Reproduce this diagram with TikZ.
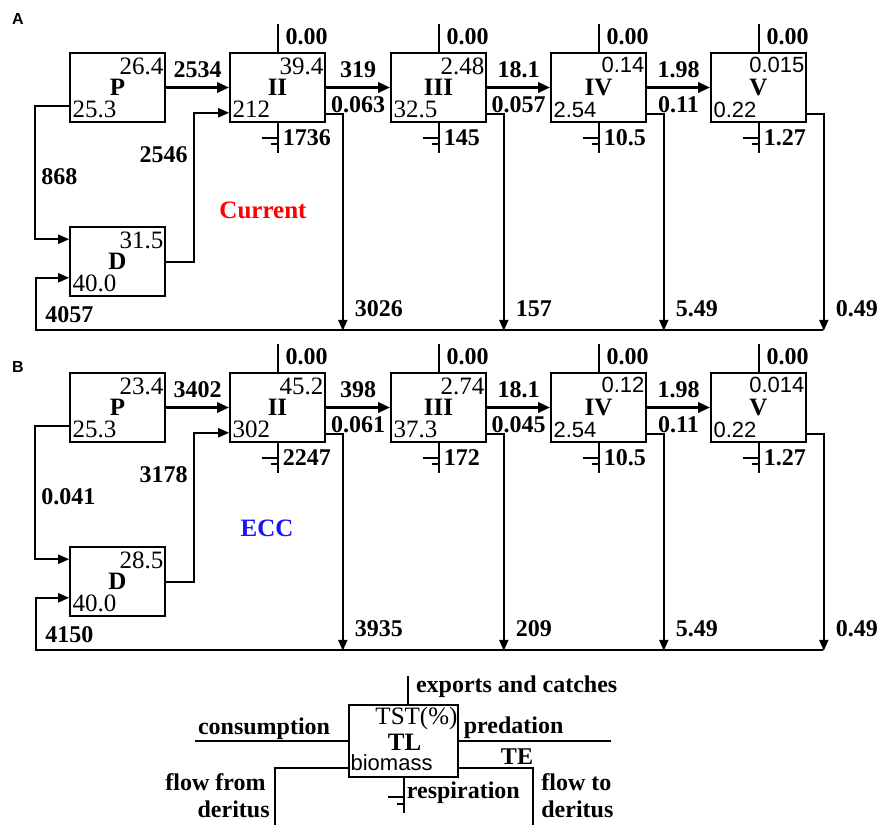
\documentclass[tikz,border=0pt]{standalone}
\usepackage{fontspec}
\setmainfont{Liberation Serif}
\newfontfamily\arialfont{Liberation Sans}
\definecolor{CurrentRed}{RGB}{255,0,0}
\definecolor{EccBlue}{RGB}{20,20,255}
\usetikzlibrary{arrows.meta, calc, positioning}
\newcommand\serifnum{\fontsize{12.5}{14}\selectfont}
\newcommand\sansnum{\arialfont\fontsize{11}{12}\selectfont}
\tikzset{
  tlbox/.style={draw, line width=0.8pt, minimum width=47.5pt, minimum height=34.5pt, inner sep=0pt},
  tllabel/.style={inner sep=0pt, font=\bfseries\fontsize{12.5}{14}\selectfont},
  val/.style={inner sep=0pt, font=\bfseries\fontsize{12}{13.5}\selectfont},
  paneltag/.style={inner sep=0pt, font=\arialfont\bfseries\fontsize{8}{9}\selectfont},
  linkline/.style={line width=1pt},
  flow/.style={line width=1.5pt, -{Triangle[length=6pt,width=5pt]}},
  detflow/.style={line width=1pt, -{Triangle[length=5.5pt,width=4.5pt]}}
}

\begin{document}
\begin{tikzpicture}[x=0.5pt, y=-0.5pt]
\useasboundingbox (0,0) rectangle (880,825);

% A: current
\node[paneltag] (tagA) at (18,19) {A};
\node[tlbox] (AP) at (117.5,87.5) {};
\node[tlbox] (AD) at (117.5,261.5) {};
\foreach \n/\x in {2/277.5,3/438.5,4/598.5,5/758.5}
  \node[tlbox] (A\n) at (\x,87.5) {};
\foreach \n/\lev/\tp/\bm/\fn in {P/P/26.4/25.3/\serifnum, D/D/31.5/40.0/\serifnum, 2/II/39.4/212/\serifnum,
    3/III/2.48/32.5/\serifnum, 4/IV/0.14/2.54/\sansnum, 5/V/0.015/0.22/\sansnum}{
  \node[inner sep=0pt, font=\fn, anchor=north east] (A\n-t) at ($(A\n.north east)+(-2,5)$) {\tp};
  \node[tllabel] (A\n-l) at (A\n) {\lev};
  \node[inner sep=0pt, font=\fn, anchor=south west] (A\n-b) at ($(A\n.south west)+(3,-5)$) {\bm};
}
\draw[flow] (AP) -- node[val, above=4pt] (Afl1) {2534} (A2);
\foreach \a/\c/\fl/\te in {2/3/319/0.063, 3/4/18.1/0.057, 4/5/1.98/0.11}
  \draw[flow] (A\a) -- node[val, above=4pt] (Afl\a) {\fl} node[val, below=4pt] (Ate\a) {\te} (A\c);
\foreach \n/\r/\d in {2/1736/3026, 3/145/157, 4/10.5/5.49, 5/1.27/0.49}{
  \draw[linkline] (A\n.north) -- ++(0,-28) node[val, pos=0.57, anchor=west, xshift=3.5pt] (Aex\n) {0.00};
  \draw[linkline] (A\n.south) -- ++(0,30) ($(A\n.south)+(0,15)$) -- ++(-16,0) ($(A\n.south)+(0,21)$) -- ++(-7,0);
  \node[val, anchor=west] (Are\n) at ($(A\n.south)+(5,15)$) {\r};
  \draw[detflow] ($(A\n.south east)+(0,-9)$) -- ++(17,0) -- ++(0,217)
    node[val, pos=0.9, anchor=west, xshift=5.5pt] (Ade\n) {\d};
}
\coordinate (Abot) at (823,330);
\coordinate (Acorner) at (36,330);
\draw[detflow] (Abot) -- (Acorner) |- ($(AD.south west)+(0,-19)$);
\node[val, anchor=west] (Aret) at (45,315) {4057};
\draw[detflow] ($(AP.south west)+(0,-17)$) -- ++(-34,0) |- ($(AD.north west)+(0,13)$);
\node[val, anchor=west] (Apd) at (41,177) {868};
\draw[detflow] (AD.east) -- ++(28,0) |- ($(A2.south west)+(0,-10)$);
\node[val, anchor=east] (Adp) at (188,155) {2546};
\node[tllabel, text=CurrentRed] (Aname) at (263,210) {Current};

% B: ECC
\begin{scope}[shift={(0,320)}]
\node[paneltag] (tagB) at (18,47) {B};
\node[tlbox] (BP) at (117.5,87.5) {};
\node[tlbox] (BD) at (117.5,261.5) {};
\foreach \n/\x in {2/277.5,3/438.5,4/598.5,5/758.5}
  \node[tlbox] (B\n) at (\x,87.5) {};
\foreach \n/\lev/\tp/\bm/\fn in {P/P/23.4/25.3/\serifnum, D/D/28.5/40.0/\serifnum, 2/II/45.2/302/\serifnum,
    3/III/2.74/37.3/\serifnum, 4/IV/0.12/2.54/\sansnum, 5/V/0.014/0.22/\sansnum}{
  \node[inner sep=0pt, font=\fn, anchor=north east] (B\n-t) at ($(B\n.north east)+(-2,5)$) {\tp};
  \node[tllabel] (B\n-l) at (B\n) {\lev};
  \node[inner sep=0pt, font=\fn, anchor=south west] (B\n-b) at ($(B\n.south west)+(3,-5)$) {\bm};
}
\draw[flow] (BP) -- node[val, above=4pt] (Bfl1) {3402} (B2);
\foreach \a/\c/\fl/\te in {2/3/398/0.061, 3/4/18.1/0.045, 4/5/1.98/0.11}
  \draw[flow] (B\a) -- node[val, above=4pt] (Bfl\a) {\fl} node[val, below=4pt] (Bte\a) {\te} (B\c);
\foreach \n/\r/\d in {2/2247/3935, 3/172/209, 4/10.5/5.49, 5/1.27/0.49}{
  \draw[linkline] (B\n.north) -- ++(0,-28) node[val, pos=0.57, anchor=west, xshift=3.5pt] (Bex\n) {0.00};
  \draw[linkline] (B\n.south) -- ++(0,30) ($(B\n.south)+(0,15)$) -- ++(-16,0) ($(B\n.south)+(0,21)$) -- ++(-7,0);
  \node[val, anchor=west] (Bre\n) at ($(B\n.south)+(5,15)$) {\r};
  \draw[detflow] ($(B\n.south east)+(0,-9)$) -- ++(17,0) -- ++(0,217)
    node[val, pos=0.9, anchor=west, xshift=5.5pt] (Bde\n) {\d};
}
\coordinate (Bbot) at (823,330);
\coordinate (Bcorner) at (36,330);
\draw[detflow] (Bbot) -- (Bcorner) |- ($(BD.south west)+(0,-19)$);
\node[val, anchor=west] (Bret) at (45,315) {4150};
\draw[detflow] ($(BP.south west)+(0,-17)$) -- ++(-34,0) |- ($(BD.north west)+(0,13)$);
\node[val, anchor=west] (Bpd) at (41,177) {0.041};
\draw[detflow] (BD.east) -- ++(28,0) |- ($(B2.south west)+(0,-10)$);
\node[val, anchor=east] (Bdp) at (188,155) {3178};
\node[tllabel, text=EccBlue] (Bname) at (267,208) {ECC};
\end{scope}

% key
\node[tlbox, minimum width=54.5pt, minimum height=36pt] (key) at (403.5,741) {};
\node[inner sep=0pt, font=\serifnum, anchor=north east] (keyt) at ($(key.north east)+(-1,3)$) {TST(\%)};
\node[tllabel] (keyl) at ($(key)+(1,1)$) {TL};
\node[inner sep=0pt, font=\sansnum, anchor=south west] (keyb) at ($(key.south west)+(2,-7)$) {biomass};
\draw[linkline] ($(key.north)+(4.5,0)$) -- ++(0,-28) node[val, pos=0.64, anchor=west, xshift=3.5pt] (keyex) {exports and catches};
\draw[linkline] (key.west) -- ++(-153,0) node[val, pos=0.55, anchor=base, yshift=3.5pt] (keycons) {consumption};
\draw[linkline] (key.east) -- ++(152,0) node[val, pos=0, anchor=base west, xshift=2pt, yshift=4pt] (keypred) {predation};
\node[val, anchor=base] (keyTE) at (517,764) {TE};
\draw[linkline] ($(key.south east)+(0,-10)$) -- ++(74,0) -- ++(0,58);
\node[val, anchor=base west] (keyto1) at (541,790) {flow to};
\node[val, anchor=base west] (keyto2) at (541,817) {deritus};
\draw[linkline] ($(key.south west)+(0,-10)$) -- ++(-73,0) -- ++(0,58);
\node[val, anchor=base east] (keyfrom1) at (266,790) {flow from};
\node[val, anchor=base east] (keyfrom2) at (270,817) {deritus};
\draw[linkline] (key.south) -- ++(0,35) ($(key.south)+(0,19)$) -- ++(-16,0) ($(key.south)+(0,26)$) -- ++(-7,0);
\node[val, anchor=base west] (keyresp) at ($(key.south)+(3,21)$) {respiration};
\end{tikzpicture}
\end{document}
